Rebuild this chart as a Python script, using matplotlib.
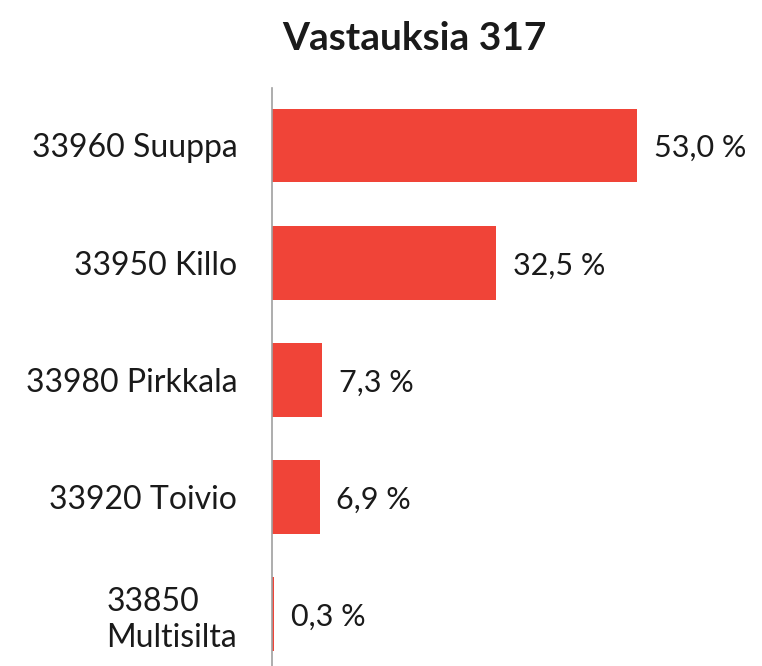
import matplotlib.pyplot as plt

# data
areas = ['33960 Suuppa', '33950 Killo', '33980 Pirkkala', '33920 Toivio', '33850\nMultisilta']
shares = [53.0, 32.5, 7.3, 6.9, 0.3]
title = 'Vastauksia 317'

plt.rcParams['font.family'] = ['Lato', 'DejaVu Sans']

fig = plt.figure(figsize=(7.62, 6.66), dpi=100)
ax = fig.add_axes([272 / 762, 0.0, 430 / 762, 578 / 666])

pos = range(len(areas))
ax.barh(pos, shares, height=0.63, color='#F04438')
ax.set_ylim(4.44, -0.49)
ax.set_xlim(0, 62.4)

for i, v in enumerate(shares):
    ax.annotate(f'{v:.1f} %'.replace('.', ','), (v, i), xytext=(12, -2),
                textcoords='offset points', va='center', ha='left',
                fontsize=22, color='#1a1a1a')

ax.set_yticks(list(pos))
ax.set_yticklabels(areas, fontsize=23, color='#1a1a1a', linespacing=1.25)
for lab in ax.get_yticklabels():
    lab.set_multialignment('left')
ax.tick_params(axis='y', length=0, pad=25)
ax.set_xticks([])

for s in ['top', 'right', 'bottom']:
    ax.spines[s].set_visible(False)
ax.spines['left'].set_color('#a0a0a0')
ax.spines['left'].set_linewidth(1.2)

fig.text(414 / 762, 1 - 38 / 666, title, ha='center', va='center',
         fontsize=28, fontweight='bold', color='#1a1a1a')

fig.savefig('out.png', dpi=100)
